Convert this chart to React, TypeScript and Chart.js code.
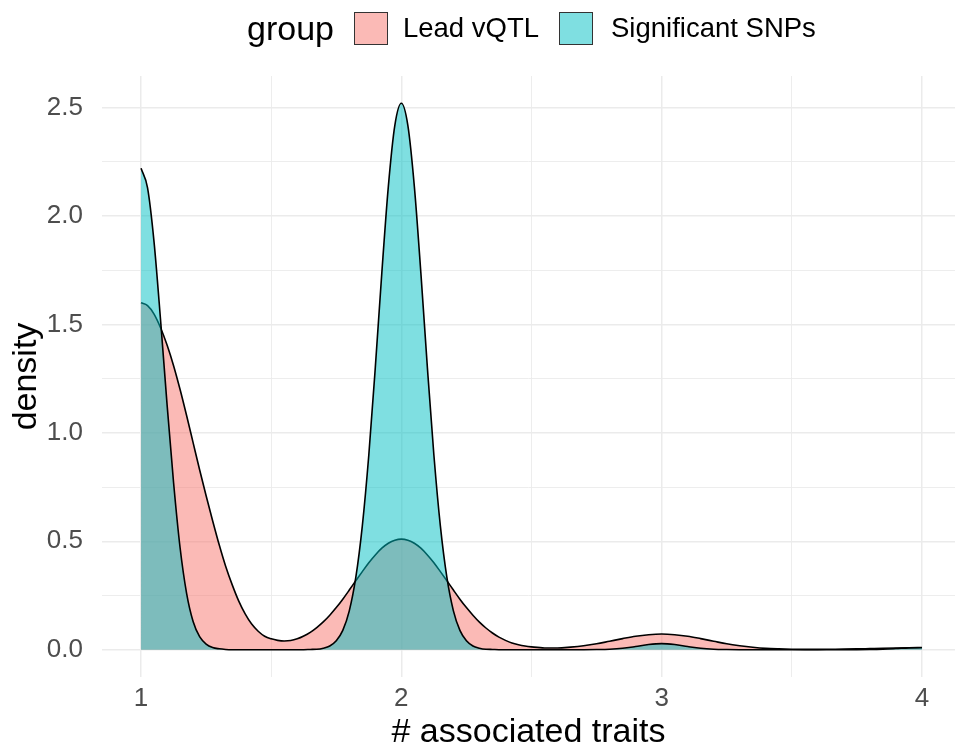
import React, { useEffect, useRef } from "react";
import { Chart, registerables } from "chart.js";

Chart.register(...registerables);

// x positions (# associated traits) at which the densities are read
const traitX = [
  1.0, 1.025, 1.05, 1.075, 1.1, 1.125, 1.15, 1.175, 1.2, 1.225, 1.25, 1.275, 1.3, 1.325, 1.35, 1.375,
  1.4, 1.425, 1.45, 1.475, 1.5, 1.525, 1.55, 1.575, 1.6, 1.625, 1.65, 1.675, 1.7, 1.725, 1.75, 1.775,
  1.8, 1.825, 1.85, 1.875, 1.9, 1.925, 1.95, 1.975, 2.0, 2.025, 2.05, 2.075, 2.1, 2.125, 2.15, 2.175,
  2.2, 2.225, 2.25, 2.275, 2.3, 2.325, 2.35, 2.375, 2.4, 2.425, 2.45, 2.475, 2.5,
  2.55, 2.6, 2.65, 2.7, 2.75, 2.8, 2.85, 2.9, 2.95, 3.0, 3.05, 3.1, 3.15, 3.2, 3.25, 3.3, 3.35, 3.4,
  3.45, 3.5, 3.55, 3.6, 3.65, 3.7, 3.75, 3.8, 3.85, 3.9, 3.95, 4.0,
];

// density, group "Lead vQTL"
const leadVqtl = [
  1.6, 1.587, 1.548, 1.485, 1.405, 1.31, 1.2, 1.08, 0.955, 0.83, 0.71, 0.595, 0.485, 0.385, 0.3, 0.225,
  0.165, 0.118, 0.085, 0.062, 0.05, 0.043, 0.04, 0.042, 0.05, 0.063, 0.08, 0.102, 0.128, 0.159, 0.194, 0.233,
  0.275, 0.318, 0.36, 0.401, 0.437, 0.468, 0.491, 0.505, 0.51, 0.505, 0.491, 0.468, 0.437, 0.401, 0.36, 0.318,
  0.275, 0.233, 0.194, 0.159, 0.127, 0.1, 0.077, 0.058, 0.043, 0.031, 0.023, 0.017, 0.013,
  0.008, 0.008, 0.012, 0.018, 0.027, 0.039, 0.051, 0.062, 0.069, 0.072, 0.069, 0.062, 0.051, 0.039, 0.027, 0.018, 0.011, 0.006,
  0.0035, 0.002, 0.0015, 0.0015, 0.002, 0.0025, 0.0035, 0.005, 0.0065, 0.0078, 0.0087, 0.009,
];

// density, group "Significant SNPs"
const significantSnps = [
  2.22, 2.13, 1.88, 1.52, 1.13, 0.77, 0.47, 0.26, 0.13, 0.06, 0.026, 0.01, 0.004, 0.001, 0, 0,
  0, 0, 0, 0, 0, 0, 0, 0, 0, 0, 0.001, 0.002, 0.007, 0.017, 0.041, 0.089,
  0.179, 0.333, 0.57, 0.898, 1.302, 1.738, 2.136, 2.418, 2.52, 2.418, 2.136, 1.738, 1.302, 0.898, 0.57, 0.333,
  0.179, 0.089, 0.041, 0.017, 0.007, 0.002, 0.001, 0, 0, 0, 0, 0, 0,
  0, 0, 0, 0, 0.0005, 0.002, 0.0063, 0.0145, 0.0237, 0.028, 0.0237, 0.0145, 0.0063, 0.002, 0.0005, 0, 0, 0,
  0, 0, 0, 0, 0, 0, 0.0001, 0.0007, 0.0023, 0.0052, 0.0085, 0.01,
];

const groupNames = ["Lead vQTL", "Significant SNPs"];
const groupFills = ["rgba(248,118,109,0.5)", "rgba(0,191,196,0.5)"];

const xTicks = [1, 1.5, 2, 2.5, 3, 3.5, 4];
const yTicks = [0, 0.25, 0.5, 0.75, 1, 1.25, 1.5, 1.75, 2, 2.25, 2.5];

const FONT = "'Liberation Sans', Arial, Helvetica, sans-serif";

const isMult = (v: number, step: number) => Math.abs(v / step - Math.round(v / step)) < 1e-6;

export default function App() {
  const canvasRef = useRef<HTMLCanvasElement | null>(null);

  useEffect(() => {
    if (!canvasRef.current) return;
    const mk = (ys: number[]) => traitX.map((x, i) => ({ x, y: ys[i] }));
    const chart = new Chart(canvasRef.current, {
      type: "line",
      data: {
        datasets: [
          {
            label: groupNames[0],
            data: mk(leadVqtl),
            backgroundColor: groupFills[0],
            borderColor: "#000",
            borderWidth: 1.6,
            fill: "origin",
            pointRadius: 0,
            tension: 0.4,
            cubicInterpolationMode: "monotone",
            order: 2,
          },
          {
            label: groupNames[1],
            data: mk(significantSnps),
            backgroundColor: groupFills[1],
            borderColor: "#000",
            borderWidth: 1.6,
            fill: "origin",
            pointRadius: 0,
            tension: 0.4,
            cubicInterpolationMode: "monotone",
            order: 1,
          },
        ],
      },
      options: {
        responsive: false,
        animation: false,
        devicePixelRatio: 1,
        layout: { padding: { top: 76, left: 0, right: 0, bottom: 0 } },
        plugins: { legend: { display: false }, tooltip: { enabled: false } },
        scales: {
          x: {
            type: "linear",
            min: 0.85,
            max: 4.127,
            afterBuildTicks: (axis: any) => {
              axis.ticks = xTicks.map((v) => ({ value: v }));
            },
            afterFit: (axis: any) => {
              axis.height = 76;
            },
            grid: {
              color: "#EBEBEB",
              lineWidth: (ctx: any) => (ctx.tick && isMult(ctx.tick.value, 1) ? 1.5 : 0.9),
              drawTicks: false,
            },
            border: { display: false },
            ticks: {
              autoSkip: false,
              maxRotation: 0,
              padding: 6,
              color: "#4D4D4D",
              font: { family: FONT, size: 26 },
              callback: (v: any) => (isMult(Number(v), 1) ? String(v) : ""),
            },
            title: {
              display: true,
              text: "# associated traits",
              color: "#000",
              font: { family: FONT, size: 34 },
              padding: { top: 0, bottom: 0 },
            },
          },
          y: {
            type: "linear",
            min: -0.126,
            max: 2.646,
            afterBuildTicks: (axis: any) => {
              axis.ticks = yTicks.map((v) => ({ value: v }));
            },
            afterFit: (axis: any) => {
              axis.width = 102;
            },
            grid: {
              color: "#EBEBEB",
              lineWidth: (ctx: any) => (ctx.tick && isMult(ctx.tick.value, 0.5) ? 1.5 : 0.9),
              drawTicks: false,
            },
            border: { display: false },
            ticks: {
              autoSkip: false,
              padding: 19,
              color: "#4D4D4D",
              font: { family: FONT, size: 26 },
              callback: (v: any) => (isMult(Number(v), 0.5) ? Number(v).toFixed(1) : ""),
            },
            title: {
              display: true,
              text: "density",
              color: "#000",
              font: { family: FONT, size: 34 },
              padding: { top: 6, bottom: 0 },
            },
          },
        },
      },
    } as any);
    return () => chart.destroy();
  }, []);

  const swatch = (fill: string): React.CSSProperties => ({
    display: "inline-block",
    boxSizing: "border-box",
    width: 34,
    height: 33,
    border: "1.5px solid #333",
    background: fill,
  });

  return (
    <div
      style={{
        position: "absolute",
        left: 0,
        top: 0,
        width: 955,
        height: 753,
        background: "#fff",
        fontFamily: FONT,
      }}
    >
      <canvas ref={canvasRef} width={955} height={753} style={{ display: "block" }} />
      <div
        style={{
          position: "absolute",
          left: 247,
          top: 8,
          height: 40,
          display: "flex",
          alignItems: "center",
          color: "#000",
          lineHeight: 1,
          whiteSpace: "nowrap",
        }}
      >
        <span style={{ fontSize: 34, marginRight: 20 }}>group</span>
        <span style={{ ...swatch(groupFills[0]), marginRight: 15 }} />
        <span style={{ fontSize: 27.5, marginRight: 20 }}>{groupNames[0]}</span>
        <span style={{ ...swatch(groupFills[1]), marginRight: 18 }} />
        <span style={{ fontSize: 27.5 }}>{groupNames[1]}</span>
      </div>
    </div>
  );
}
